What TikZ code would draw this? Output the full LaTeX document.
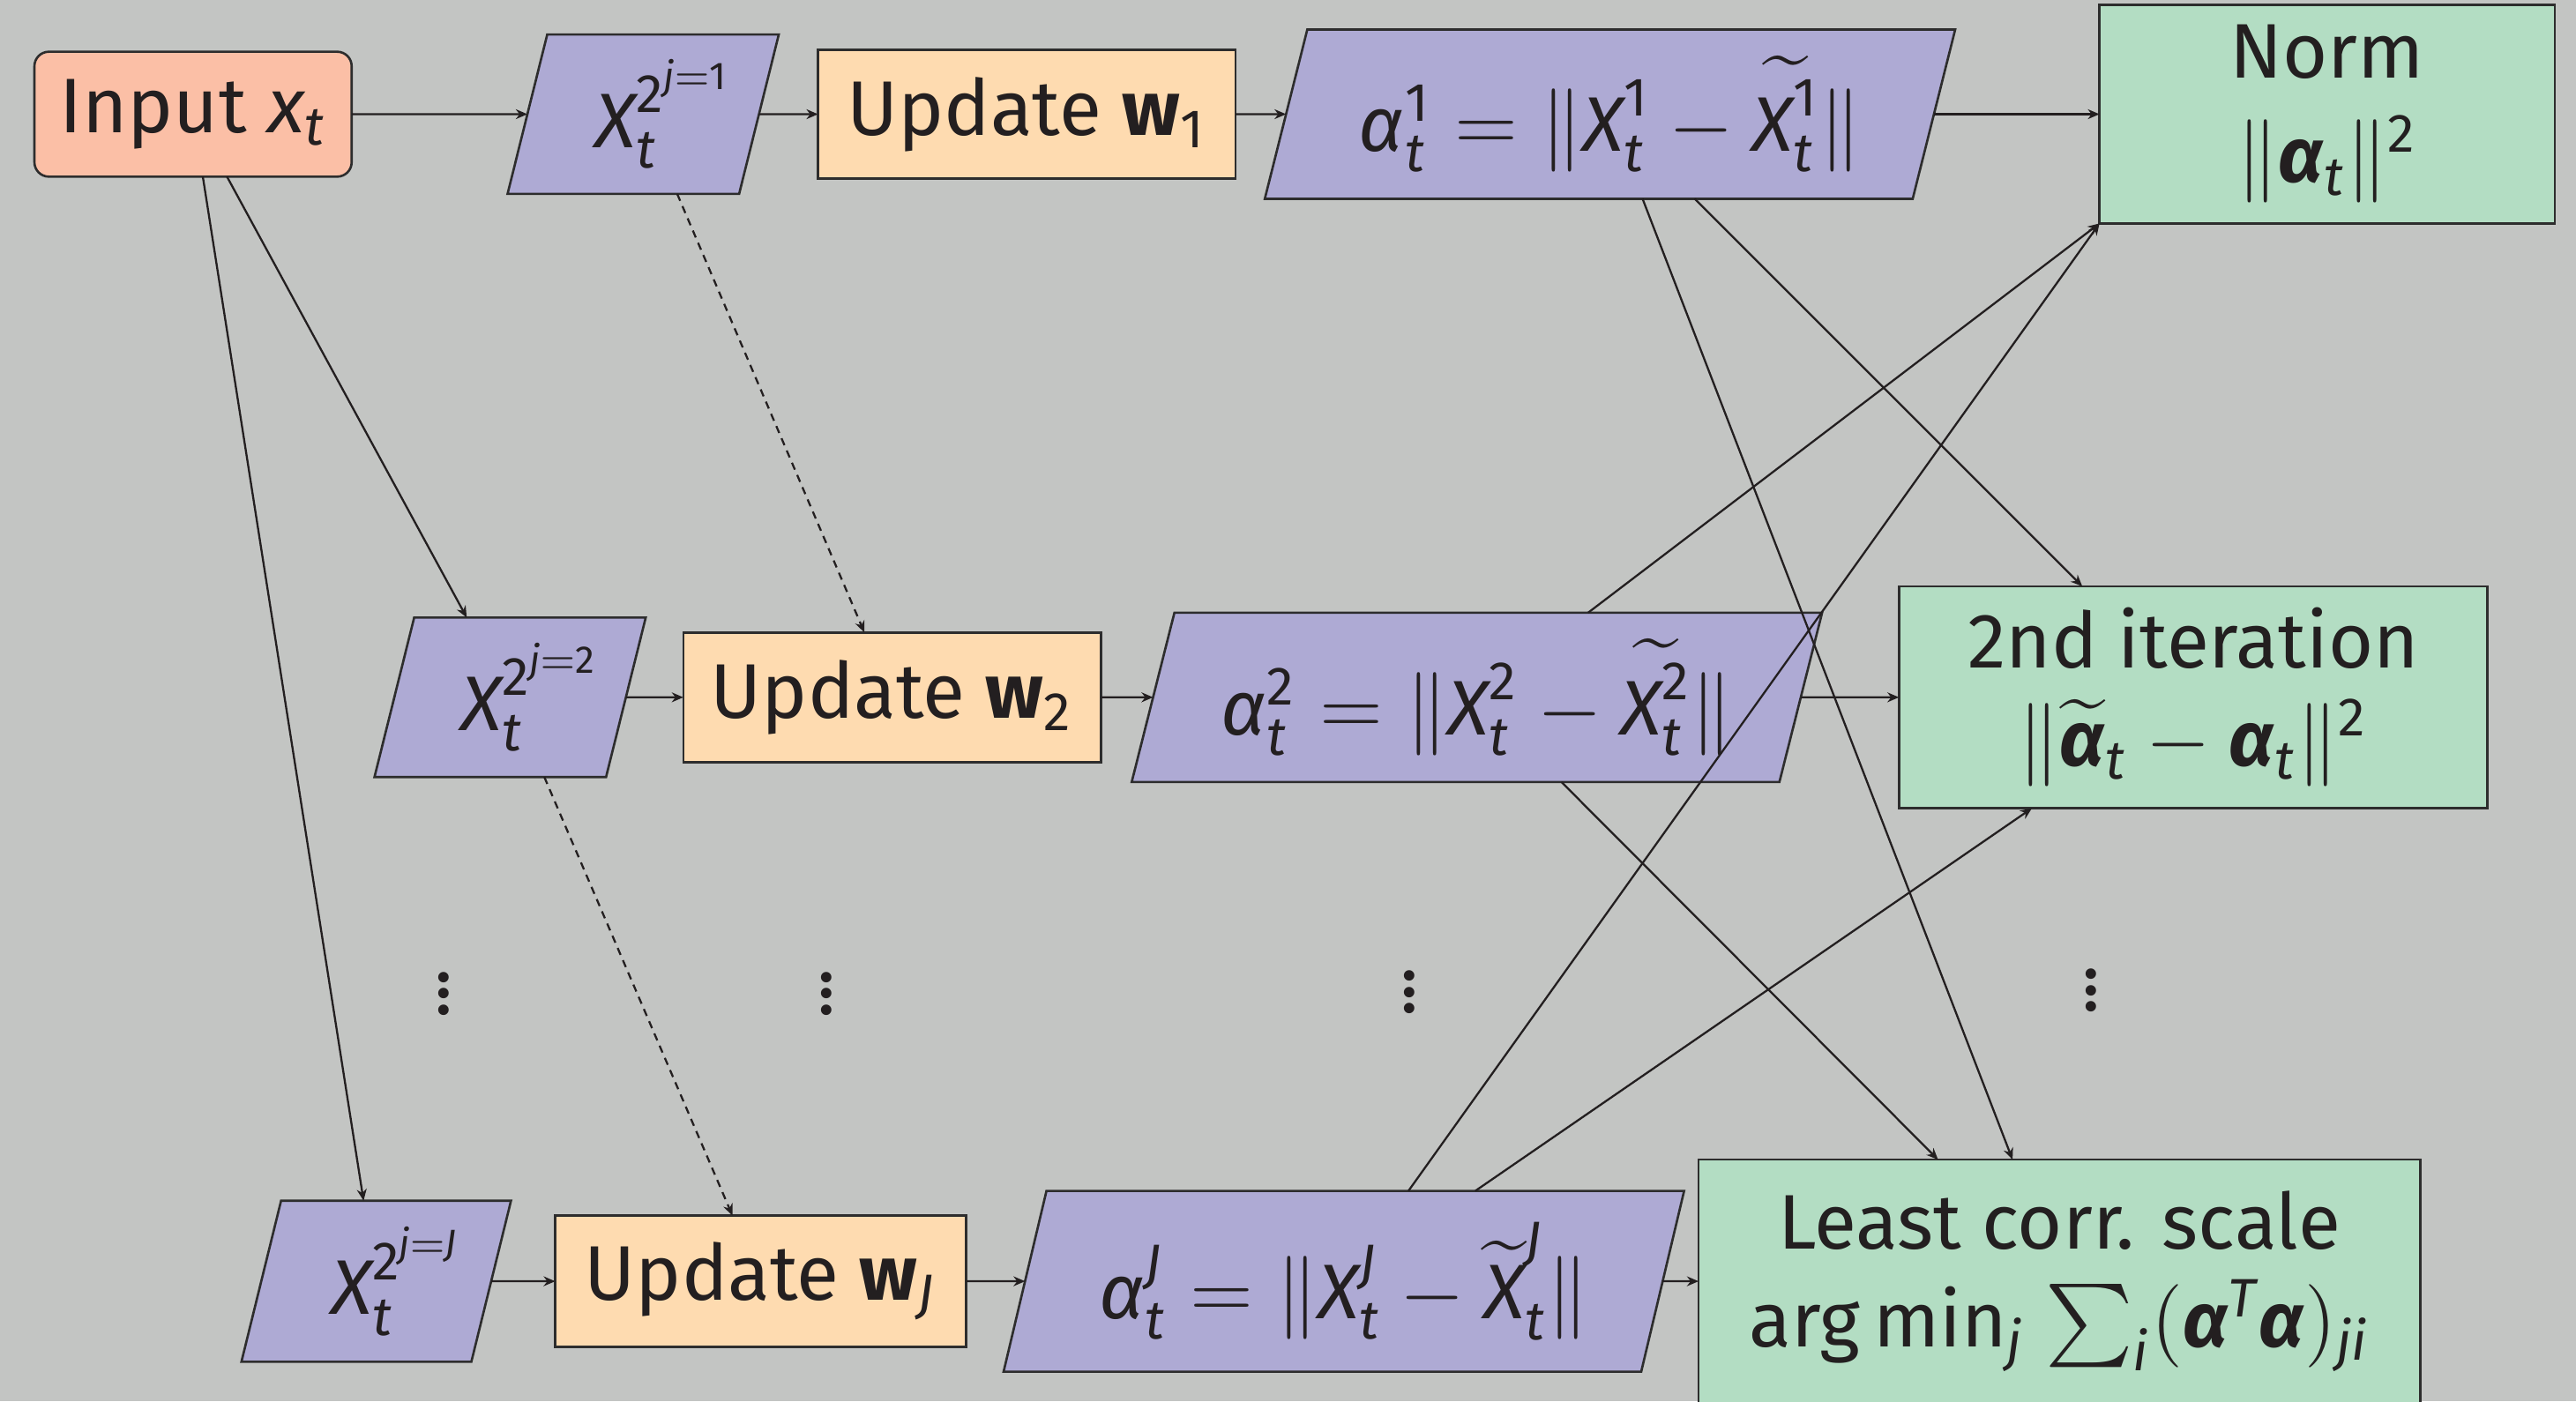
\documentclass[tikz,border=0pt]{standalone}
\usepackage{amsmath}
\usepackage{fontspec}
\setmainfont{Fira Sans}
\usetikzlibrary{shapes.geometric,arrows.meta}
\definecolor{bgc}{RGB}{195,197,195}
\definecolor{inc}{RGB}{251,191,166}
\definecolor{parc}{RGB}{174,170,212}
\definecolor{updc}{RGB}{254,219,176}
\definecolor{grc}{RGB}{179,221,195}
\definecolor{bordc}{RGB}{45,45,45}
\definecolor{txtc}{RGB}{35,31,32}
\newcommand\itx[1]{\textit{#1}}
\newcommand\nd[1]{\text{#1}}
\newcommand\bal{\textbf{\textit{α}}}
\newcommand\shiftr[1]{\makebox[0pt]{\hspace{0.25cm}#1}}
\begin{document}
\begin{tikzpicture}[x=0.01cm,y=-0.01cm,
  every node/.style={font=\fontsize{13.4}{17}\selectfont,inner sep=0pt,outer sep=0pt,text=txtc},
  inbox/.style={rectangle,rounded corners=2.5pt,draw=bordc,line width=0.4pt,fill=inc},
  upd/.style={rectangle,draw=bordc,line width=0.4pt,fill=updc},
  grn/.style={rectangle,draw=bordc,line width=0.4pt,fill=grc,align=center},
  para/.style={trapezium,trapezium left angle=70,trapezium right angle=110,
    trapezium stretches body=true,draw=bordc,line width=0.4pt,fill=parc},
  dotsn/.style={align=center,font=\fontsize{10}{1.68pt}\selectfont\bfseries},
  conn/.style={line width=0.35pt,draw=txtc,-{Stealth[length=2pt,width=1.7pt]}},
  dconn/.style={conn,dash pattern=on 1.3pt off 1pt},
]
\useasboundingbox (0,0) rectangle (1568,853);
\fill[bgc] (0,0) rectangle (1568,853);
\begin{scope}
\clip (0,0) rectangle (1568,853);
% row 1
\node[inbox,minimum width=1.93cm,minimum height=0.76cm] (in) at (117.5,69.5) {Input $\itx{x}_{\itx{t}}$};
\node[para,minimum width=1.65cm,minimum height=0.97cm] (x1) at (391.5,69.5) {\shiftr{$\itx{X}_{\itx{t}}^{\nd{2}^{\itx{j}=\nd{1}}}$}};
\node[upd,minimum width=2.54cm,minimum height=0.78cm] (u1) at (625,69.5) {Update $\textbf{w}_{\nd{1}}$};
\node[para,minimum width=4.20cm,minimum height=1.03cm] (a1) at (980,69.5) {$\itx{α}^{\nd{1}}_{\itx t}=\|\itx{X}^{\nd{1}}_{\itx t}-\widetilde{\itx{X}^{\nd{1}}_{\itx t}}\|$};
\node[grn,minimum width=2.77cm,minimum height=1.33cm] (norm) at (1416.5,69.5) {Norm\\[1pt] $\|\bal_{\itx t}\|^{\nd{2}}$};
% row 2
\node[para,minimum width=1.65cm,minimum height=0.97cm] (x2) at (310.5,424.5) {\shiftr{$\itx{X}_{\itx{t}}^{\nd{2}^{\itx{j}=\nd{2}}}$}};
\node[upd,minimum width=2.54cm,minimum height=0.79cm] (u2) at (543,424.5) {Update $\textbf{w}_{\nd{2}}$};
\node[para,minimum width=4.20cm,minimum height=1.03cm] (a2) at (899,424.5) {$\itx{α}^{\nd{2}}_{\itx t}=\|\itx{X}^{\nd{2}}_{\itx t}-\widetilde{\itx{X}^{\nd{2}}_{\itx t}}\|$};
\node[grn,minimum width=3.58cm,minimum height=1.35cm] (it2) at (1335,424.5) {2nd iteration\\ $\|\widetilde{\bal}_{\itx t}-\bal_{\itx t}\|^{\nd{2}}$};
% row J
\node[para,minimum width=1.64cm,minimum height=0.98cm] (xJ) at (229,780) {\shiftr{$\itx{X}_{\itx{t}}^{\nd{2}^{\itx{j}=\itx{J}}}$}};
\node[upd,minimum width=2.50cm,minimum height=0.80cm] (uJ) at (463,780) {Update $\textbf{w}_{\itx J}$};
\node[para,minimum width=4.14cm,minimum height=1.10cm] (aJ) at (818,780) {$\itx{α}^{\itx J}_{\itx t}=\|\itx{X}^{\itx J}_{\itx t}-\widetilde{\itx{X}}^{\itx J}_{\itx t}\|$};
\node[grn,minimum width=4.39cm,minimum height=1.48cm] (lc) at (1253.5,780) {Least corr. scale\\ arg\,min$_{\itx j}$ $\sum_{\itx i}(\bal^{\itx T}\bal)_{\itx{ji}}$};
% dots
\node[dotsn] (d1) at (270,605) {.\\.\\.};
\node[dotsn] (d2) at (503,605) {.\\.\\.};
\node[dotsn] (d3) at (858,604) {.\\.\\.};
\node[dotsn] (d4) at (1273,603) {.\\.\\.};
% connectors
\draw[conn] (in) -- (x1);
\draw[conn] (x1) -- (u1);
\draw[conn] (u1) -- (a1);
\draw[conn] (a1) -- (norm);
\draw[conn] (in) -- (x2);
\draw[conn] (in) -- (xJ);
\draw[dconn] (x1) -- (u2);
\draw[dconn] (x2) -- (uJ);
\draw[conn] (x2) -- (u2);
\draw[conn] (u2) -- (a2);
\draw[conn] (a2) -- (it2);
\draw[conn] (a1) -- (it2);
\draw[conn] (a1) -- (lc);
\draw[conn] (a2) -- (norm.south west);
\draw[conn] (a2) -- (lc);
\draw[conn] (aJ) -- (norm.south west);
\draw[conn] (aJ) -- (it2);
\draw[conn] (xJ) -- (uJ);
\draw[conn] (uJ) -- (aJ);
\draw[conn] (aJ) -- (lc);
\end{scope}
\end{tikzpicture}
\end{document}
